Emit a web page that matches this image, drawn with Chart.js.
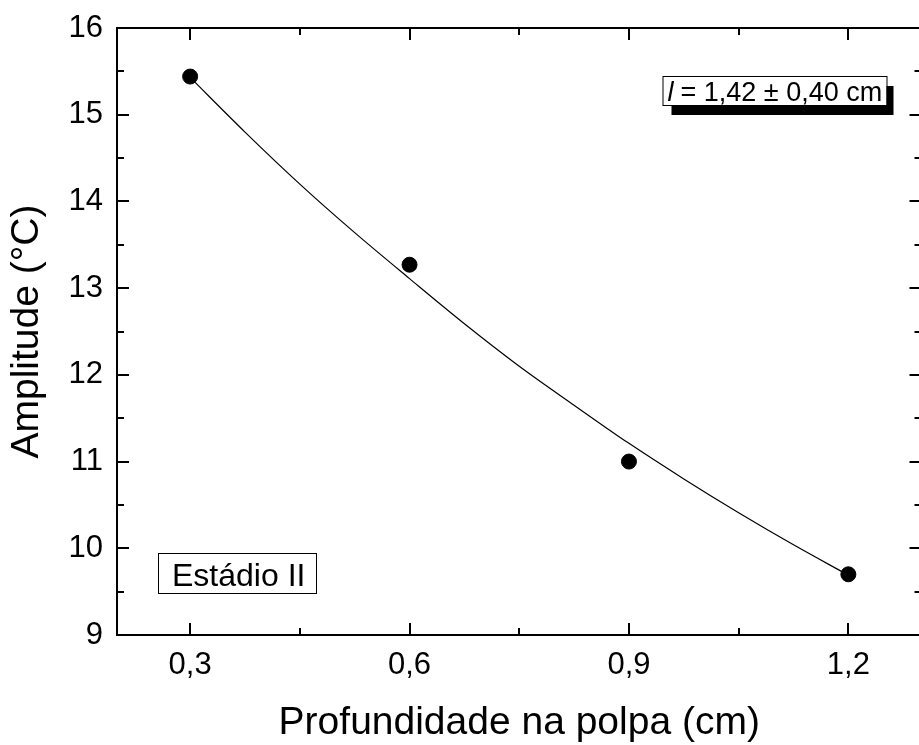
<!DOCTYPE html>
<html>
<head>
<meta charset="utf-8">
<title>Amplitude x Profundidade</title>
<script src="https://cdn.jsdelivr.net/npm/chart.js@4/dist/chart.umd.min.js"></script>
<style>
  html, body { margin: 0; padding: 0; overflow: hidden; background: #fff; }
  #chart { display: block; }
</style>
</head>
<body>
<canvas id="chart" width="930" height="745"></canvas>
<script>
    'use strict';

    // Measured amplitudes at each depth
    const depths = [0.3, 0.6, 0.9, 1.2];
    const amplitudes = [15.44, 13.27, 11.0, 9.70];

    // Fitted decay curve, read at regular depths
    const fitDepths = [0.3, 0.375, 0.45, 0.525, 0.6, 0.675, 0.75, 0.825, 0.9, 0.975, 1.05, 1.125, 1.2];
    const fitValues = [15.43, 14.80, 14.20, 13.64, 13.11, 12.59, 12.10, 11.65, 11.21, 10.80, 10.41, 10.04, 9.69];

    // Axis ticks
    const xMajor = [0.3, 0.6, 0.9, 1.2];
    const xMinor = [0.45, 0.75, 1.05];
    const yMajor = [9, 10, 11, 12, 13, 14, 15, 16];
    const yMinor = [9.5, 10.5, 11.5, 12.5, 13.5, 14.5, 15.5];

    const fitLabel = '= 1,42 ± 0,40 cm';
    const stageLabel = 'Estádio II';

    const FONT = "'Liberation Sans', Arial, sans-serif";
    const fmt = v => v.toFixed(1).replace('.', ',');

    // Frame with inward major/minor ticks on all four sides
    const framePlugin = {
        id: 'frame',
        afterDatasetsDraw: function(chart) {
            const ctx = chart.ctx;
            const a = chart.chartArea;
            const xs = chart.scales.x, ys = chart.scales.y;
            ctx.save();
            ctx.strokeStyle = '#000';
            ctx.lineWidth = 2;
            ctx.strokeRect(a.left, a.top, a.right - a.left, a.bottom - a.top);
            ctx.beginPath();
            const tickX = function(v, len) {
                const px = Math.round(xs.getPixelForValue(v));
                ctx.moveTo(px, a.bottom); ctx.lineTo(px, a.bottom - len);
                ctx.moveTo(px, a.top); ctx.lineTo(px, a.top + len);
            };
            const tickY = function(v, len) {
                const py = Math.round(ys.getPixelForValue(v));
                ctx.moveTo(a.left, py); ctx.lineTo(a.left + len, py);
                ctx.moveTo(a.right, py); ctx.lineTo(a.right - len, py);
            };
            xMajor.forEach(v => tickX(v, 12));
            xMinor.forEach(v => tickX(v, 7));
            yMajor.forEach(v => tickY(v, 12));
            yMinor.forEach(v => tickY(v, 7));
            ctx.stroke();
            ctx.restore();
        },
        afterDraw: function(chart) {
            const ctx = chart.ctx;
            const a = chart.chartArea;
            ctx.save();

            // fit result box with drop shadow
            let bx = a.right - 259, by = a.top + 48, bw = 224, bh = 29;
            ctx.fillStyle = '#000';
            ctx.fillRect(bx + 9, by + 10, bw - 2, bh);
            ctx.fillStyle = '#fff';
            ctx.fillRect(bx, by, bw, bh);
            ctx.strokeStyle = '#000';
            ctx.lineWidth = 1;
            ctx.strokeRect(bx + 0.5, by + 0.5, bw, bh);
            ctx.fillStyle = '#000';
            ctx.textBaseline = 'alphabetic';
            ctx.font = 'italic 27px ' + FONT;
            ctx.fillText('l', bx + 5, by + 25);
            ctx.font = '27px ' + FONT;
            ctx.fillText(fitLabel, bx + 18, by + 25);

            // stage label box
            bx = a.left + 41; by = a.bottom - 82; bw = 158; bh = 40;
            ctx.fillStyle = '#fff';
            ctx.fillRect(bx, by, bw, bh);
            ctx.strokeRect(bx + 0.5, by + 0.5, bw, bh);
            ctx.fillStyle = '#000';
            ctx.font = '32px ' + FONT;
            ctx.fillText(stageLabel, bx + 14, by + 33);
            ctx.restore();
        }
    };

    new Chart(document.getElementById('chart'), {
        type: 'scatter',
        data: {
            datasets: [
                {
                    label: 'ajuste',
                    type: 'line',
                    data: fitDepths.map((x, i) => ({ x: x, y: fitValues[i] })),
                    borderColor: '#000',
                    borderWidth: 1.2,
                    pointRadius: 0,
                    fill: false,
                    cubicInterpolationMode: 'monotone'
                },
                {
                    label: 'amplitude',
                    data: depths.map((x, i) => ({ x: x, y: amplitudes[i] })),
                    backgroundColor: '#000',
                    borderColor: '#000',
                    pointRadius: 7.5,
                    pointHoverRadius: 7.5
                }
            ]
        },
        options: {
            responsive: false,
            animation: false,
            layout: { padding: { top: 28, right: 4, left: 0, bottom: 0 } },
            plugins: {
                legend: { display: false },
                tooltip: { enabled: false }
            },
            scales: {
                x: {
                    type: 'linear',
                    min: 0.2,
                    max: 1.3,
                    afterBuildTicks: s => { s.ticks = xMajor.map(v => ({ value: v })); },
                    afterFit: s => { s.height = 110; },
                    grid: { display: false, drawTicks: false },
                    border: { display: false },
                    ticks: {
                        padding: 12,
                        color: '#000',
                        font: { family: FONT, size: 31 },
                        callback: v => fmt(v)
                    },
                    title: {
                        display: true,
                        text: 'Profundidade na polpa (cm)',
                        color: '#000',
                        font: { family: FONT, size: 39, lineHeight: 1 },
                        padding: { top: 0, bottom: 2 }
                    }
                },
                y: {
                    min: 9,
                    max: 16,
                    afterBuildTicks: s => { s.ticks = yMajor.map(v => ({ value: v })); },
                    afterFit: s => { s.width = 117; },
                    grid: { display: false, drawTicks: false },
                    border: { display: false },
                    ticks: {
                        padding: 14,
                        color: '#000',
                        // compact line height keeps the top label from pushing the plot down
                        font: { family: FONT, size: 31, lineHeight: 0.8 },
                        callback: v => String(v)
                    },
                    title: {
                        display: true,
                        text: 'Amplitude (°C)',
                        color: '#000',
                        font: { family: FONT, size: 39, lineHeight: 1 },
                        padding: { top: 8, bottom: 0 }
                    }
                }
            }
        },
        plugins: [framePlugin]
    });
</script>
</body>
</html>
